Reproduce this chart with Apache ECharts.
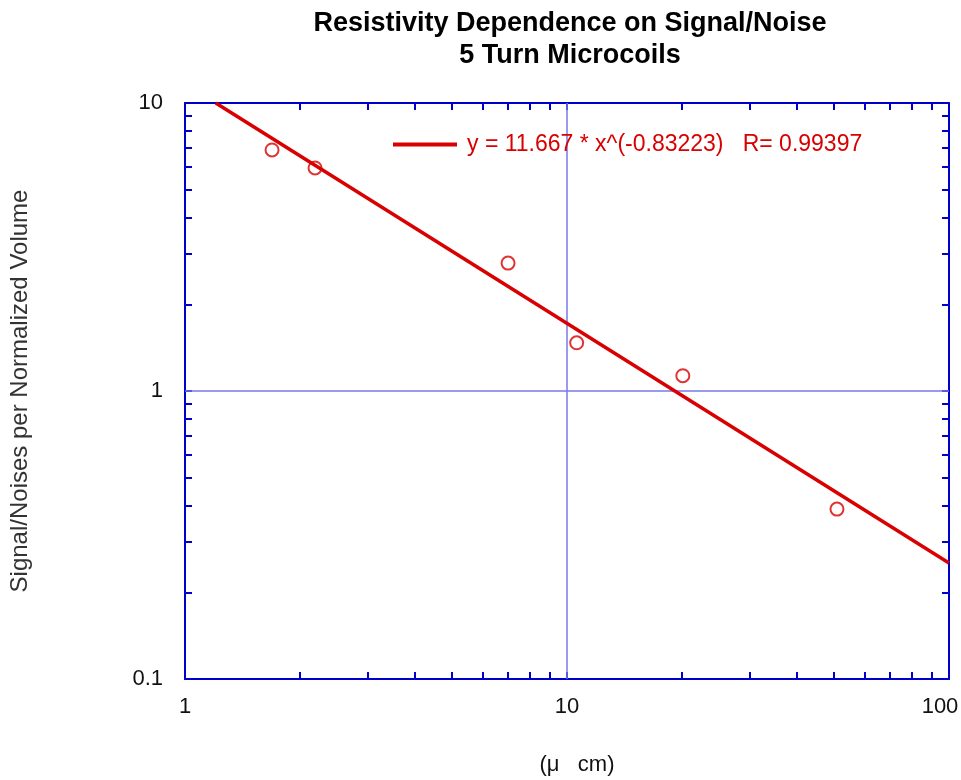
<!DOCTYPE html>
<html>
<head>
<meta charset="utf-8">
<script src="https://cdn.jsdelivr.net/npm/echarts@6/dist/echarts.min.js"></script>
<style>
  html, body { margin: 0; padding: 0; background: #fff; }
  #chart { width: 961px; height: 780px; }
</style>
</head>
<body>
<div id="chart"></div>
<script>
// measured points (resistivity, S/N per normalized volume)
const resistivity = [1.69, 2.19, 7.01, 10.6, 20.1, 50.9]
const snr = [6.87, 5.95, 2.78, 1.47, 1.13, 0.389]

// power-law fit y = 11.667 * x^(-0.83223), end points inside the frame
const fitX = [1.2036, 100]
const fitY = [10, 0.2527]
const fitLabel = 'y = 11.667 * x^(-0.83223)   R= 0.99397'

const logTicks = [1, 2, 3, 4, 5, 6, 7, 8, 9, 10, 20, 30, 40, 50, 60, 70, 80, 90, 100]
const yTicks = [0.1, 0.2, 0.3, 0.4, 0.5, 0.6, 0.7, 0.8, 0.9, 1, 2, 3, 4, 5, 6, 7, 8, 9, 10]

const FONT = 'Liberation Sans, Arial, sans-serif'
const BLUE = '#0000cc'
const RED = '#d80000'

const chart = echarts.init(document.getElementById('chart'), null, { renderer: 'canvas' })

function frameAxis(pos, ticks, min, max, showLabel, extra) {
  return Object.assign({
    type: 'log',
    logBase: 10,
    position: pos,
    min,
    max,
    axisLine: { show: true, onZero: false, lineStyle: { color: BLUE, width: 2 } },
    axisTick: {
      show: true,
      inside: true,
      length: 7,
      customValues: ticks,
      lineStyle: { color: BLUE, width: 2 },
    },
    minorTick: { show: false },
    splitLine: { show: false },
    axisLabel: {
      show: showLabel,
      color: '#111',
      fontSize: 22,
      fontFamily: FONT,
    },
  }, extra || {})
}

const option = {
  backgroundColor: '#fff',
  animation: false,
  title: {
    text: 'Resistivity Dependence on Signal/Noise\n5 Turn Microcoils',
    left: 565,
    textAlign: 'center',
    top: 3,
    textStyle: {
      fontFamily: FONT,
      fontSize: 27,
      fontWeight: 'bold',
      color: '#000',
      lineHeight: 32,
    },
  },
  legend: {
    left: 393,
    top: 133,
    padding: 0,
    itemWidth: 64,
    itemHeight: 4,
    itemGap: 10,
    data: [{ name: fitLabel, icon: 'rect' }],
    textStyle: { color: RED, fontSize: 23, fontFamily: FONT, padding: [0, 0, 0, 5] },
  },
  grid: { left: 185, right: 12, top: 103, bottom: 101, outerBoundsMode: 'none' },
  xAxis: [
    frameAxis('bottom', logTicks, 1, 100, true, {
      name: '(μ   cm)',
      nameLocation: 'middle',
      nameGap: 75,
      nameTextStyle: { color: '#111', fontSize: 22, fontFamily: FONT, padding: [0, 0, 0, 20] },
      axisLabel: {
        show: true,
        color: '#111',
        fontSize: 22,
        fontFamily: FONT,
        margin: 17,
        formatter: (v) => (v === 100 ? '{last|100}' : String(v)),
        rich: {
          last: { color: '#111', fontSize: 22, fontFamily: FONT, padding: [0, 18, 0, 0] },
        },
      },
    }),
    frameAxis('top', logTicks, 1, 100, false),
  ],
  yAxis: [
    frameAxis('left', yTicks, 0.1, 10, true, {
      name: 'Signal/Noises per Normalized Volume',
      nameLocation: 'middle',
      nameGap: 153,
      nameTextStyle: { color: '#333', fontSize: 24, fontFamily: FONT },
      axisLabel: { show: true, color: '#111', fontSize: 22, fontFamily: FONT, margin: 22 },
    }),
    frameAxis('right', yTicks, 0.1, 10, false),
  ],
  series: [
    {
      name: fitLabel,
      type: 'line',
      xAxisIndex: 0,
      yAxisIndex: 0,
      data: fitX.map((x, i) => [x, fitY[i]]),
      showSymbol: false,
      symbol: 'none',
      lineStyle: { color: RED, width: 3.5 },
      itemStyle: { color: RED },
      z: 3,
      markLine: {
        silent: true,
        symbol: 'none',
        label: { show: false },
        lineStyle: { color: '#7878e8', type: 'solid', width: 1.5 },
        data: [{ xAxis: 10 }, { yAxis: 1 }],
        z: 1,
      },
    },
    {
      name: 'data',
      type: 'scatter',
      xAxisIndex: 0,
      yAxisIndex: 0,
      data: resistivity.map((x, i) => [x, snr[i]]),
      symbol: 'circle',
      symbolSize: 13,
      itemStyle: { color: 'rgba(255,255,255,0)', borderColor: RED, borderWidth: 2 },
      z: 4,
    },
  ],
}

chart.setOption(option)
</script>
</body>
</html>
